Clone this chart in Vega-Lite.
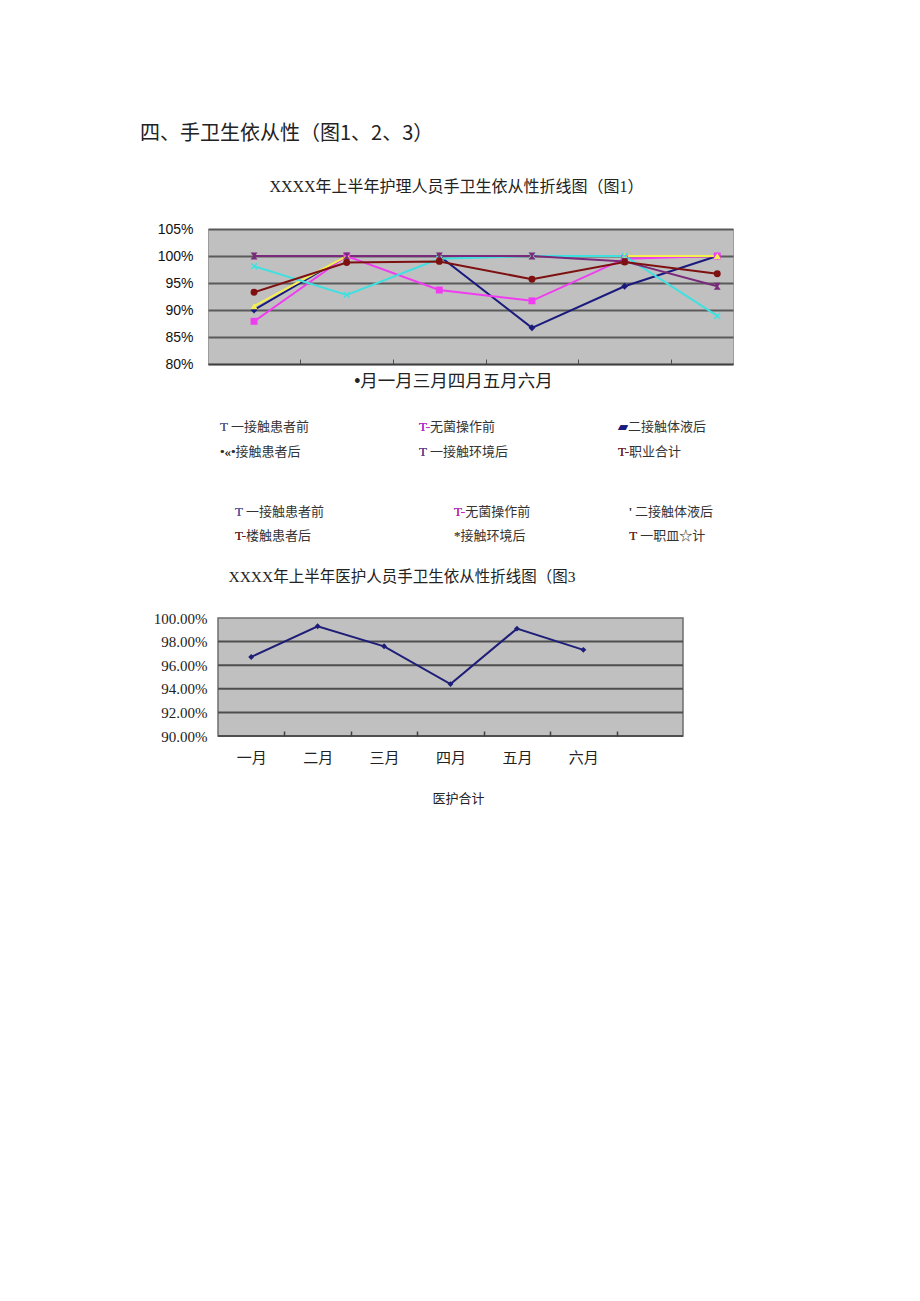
{
  "$schema": "https://vega.github.io/schema/vega-lite/v6.json",
  "background": "white",
  "padding": {"left": 140, "top": 123, "right": 5, "bottom": 5},
  "title": {"text": "四、手卫生依从性（图1、2、3）", "anchor": "start", "frame": "group", "dx": -68, "fontSize": 20, "fontWeight": "normal", "font": "Noto Sans CJK SC", "color": "#222", "baseline": "middle", "offset": 25},
  "spacing": 35.67,
  "bounds": "flush",
  "resolve": {"scale": {"color": "independent", "shape": "independent", "x": "independent", "y": "independent"}},
  "config": {"view": {"stroke": null}, "font": "Noto Sans CJK SC", "axis": {"labelOverlap": false}},
  "datasets": {
    "nursing": [
      {"month": 1, "series": "接触患者前", "rate": 0.90},
      {"month": 2, "series": "接触患者前", "rate": 1.00},
      {"month": 3, "series": "接触患者前", "rate": 1.00},
      {"month": 4, "series": "接触患者前", "rate": 0.867},
      {"month": 5, "series": "接触患者前", "rate": 0.944},
      {"month": 6, "series": "接触患者前", "rate": 1.00},
      {"month": 1, "series": "无菌操作前", "rate": 0.879},
      {"month": 2, "series": "无菌操作前", "rate": 1.00},
      {"month": 3, "series": "无菌操作前", "rate": 0.937},
      {"month": 4, "series": "无菌操作前", "rate": 0.917},
      {"month": 5, "series": "无菌操作前", "rate": 0.995},
      {"month": 6, "series": "无菌操作前", "rate": 1.00},
      {"month": 1, "series": "接触体液后", "rate": 0.907},
      {"month": 2, "series": "接触体液后", "rate": 1.00},
      {"month": 3, "series": "接触体液后", "rate": 1.00},
      {"month": 4, "series": "接触体液后", "rate": 1.00},
      {"month": 5, "series": "接触体液后", "rate": 1.00},
      {"month": 6, "series": "接触体液后", "rate": 1.00},
      {"month": 1, "series": "接触患者后", "rate": 0.981},
      {"month": 2, "series": "接触患者后", "rate": 0.928},
      {"month": 3, "series": "接触患者后", "rate": 0.995},
      {"month": 4, "series": "接触患者后", "rate": 1.00},
      {"month": 5, "series": "接触患者后", "rate": 1.00},
      {"month": 6, "series": "接触患者后", "rate": 0.889},
      {"month": 1, "series": "接触环境后", "rate": 1.00},
      {"month": 2, "series": "接触环境后", "rate": 1.00},
      {"month": 3, "series": "接触环境后", "rate": 1.00},
      {"month": 4, "series": "接触环境后", "rate": 1.00},
      {"month": 5, "series": "接触环境后", "rate": 0.99},
      {"month": 6, "series": "接触环境后", "rate": 0.944},
      {"month": 1, "series": "职业合计", "rate": 0.933},
      {"month": 2, "series": "职业合计", "rate": 0.988},
      {"month": 3, "series": "职业合计", "rate": 0.99},
      {"month": 4, "series": "职业合计", "rate": 0.957},
      {"month": 5, "series": "职业合计", "rate": 0.989},
      {"month": 6, "series": "职业合计", "rate": 0.967}
    ],
    "medical": [
      {"month": 1, "name": "一月", "rate": 0.967},
      {"month": 2, "name": "二月", "rate": 0.993},
      {"month": 3, "name": "三月", "rate": 0.976},
      {"month": 4, "name": "四月", "rate": 0.944},
      {"month": 5, "name": "五月", "rate": 0.991},
      {"month": 6, "name": "六月", "rate": 0.973}
    ],
    "grid3": [{"level": 0.90}, {"level": 0.92}, {"level": 0.94}, {"level": 0.96}, {"level": 0.98}],
    "frame3": [{"part": "plot"}],
    "legend1": [
      {"row": "r1", "col": "c1", "prefix": "T", "text": "T 一接触患者前", "key": "a"},
      {"row": "r1", "col": "c2", "prefix": "T-", "text": "T-无菌操作前", "key": "b"},
      {"row": "r1", "col": "c3", "prefix": "▰", "text": "▰二接触体液后", "key": "c"},
      {"row": "r2", "col": "c1", "prefix": "•«•", "text": "•«•接触患者后", "key": "d"},
      {"row": "r2", "col": "c2", "prefix": "T", "text": "T 一接触环境后", "key": "e"},
      {"row": "r2", "col": "c3", "prefix": "T-", "text": "T-职业合计", "key": "f"}
    ],
    "legend2": [
      {"row": "r1", "col": "c1", "prefix": "T", "text": "T 一接触患者前", "key": "a"},
      {"row": "r1", "col": "c2", "prefix": "T-", "text": "T-无菌操作前", "key": "b"},
      {"row": "r1", "col": "c3", "prefix": "'", "text": "' 二接触体液后", "key": "c"},
      {"row": "r2", "col": "c1", "prefix": "T-", "text": "T-楼触患者后", "key": "d"},
      {"row": "r2", "col": "c2", "prefix": "*", "text": "*接触环境后", "key": "e"},
      {"row": "r2", "col": "c3", "prefix": "T", "text": "T 一职皿☆计", "key": "f"}
    ]
  },
  "vconcat": [
    {
      "width": 525,
      "height": 135,
      "view": {"fill": "#c0c0c0", "stroke": "#9c9c9c", "strokeWidth": 1},
      "title": {"text": "XXXX年上半年护理人员手卫生依从性折线图（图1）", "fontSize": 16, "fontWeight": "normal", "font": "Liberation Serif, Noto Sans CJK SC", "color": "#222", "baseline": "middle", "offset": 19, "dx": -14, "anchor": "middle"},
      "data": {"name": "nursing"},
      "encoding": {
        "x": {"field": "month", "type": "quantitative", "scale": {"domain": [0.503, 6.17], "nice": false, "zero": false},
          "axis": {"values": [1.5, 2.5, 3.5, 4.5, 5.5], "tickCount": 20, "labels": false, "tickSize": -5, "tickColor": "#505050", "domainColor": "#404040", "domainWidth": 1.5, "grid": false,
            "title": "•月一月三月四月五月六月", "titleFont": "Liberation Sans, Noto Sans CJK SC", "titleFontSize": 17.5, "titleFontWeight": "normal", "titleColor": "#222", "titleX": 245, "titleY": 17, "titleBaseline": "middle", "titleAlign": "center"}},
        "y": {"field": "rate", "type": "quantitative", "scale": {"domain": [0.8, 1.05], "nice": false, "zero": false},
          "axis": {"values": [0.8, 0.85, 0.9, 0.95, 1.0, 1.05], "tickCount": 20, "format": ".0%", "labelFont": "Liberation Sans", "labelFontSize": 14, "labelColor": "#111", "ticks": false, "labelPadding": 15, "domain": false, "grid": true, "gridColor": "#5a5a5a", "gridWidth": 2, "labelOverlap": false, "title": null}},
        "color": {"field": "series", "type": "nominal",
          "scale": {"domain": ["接触患者前", "无菌操作前", "接触体液后", "接触患者后", "接触环境后", "职业合计"], "range": ["#1a1a7e", "#f03cf0", "#f5f050", "#40e0e0", "#7a2a7a", "#7e1010"]},
          "legend": null}
      },
      "layer": [
        {"mark": {"type": "line", "strokeWidth": 2}},
        {"mark": {"type": "point", "filled": true, "opacity": 1, "size": 48, "strokeWidth": 0},
          "encoding": {"shape": {"field": "series", "type": "nominal",
            "scale": {"domain": ["接触患者前", "无菌操作前", "接触体液后", "接触患者后", "接触环境后", "职业合计"],
              "range": ["diamond", "square", "triangle-up", "M-1,-0.7L-0.7,-1L0,-0.3L0.7,-1L1,-0.7L0.3,0L1,0.7L0.7,1L0,0.3L-0.7,1L-1,0.7L-0.3,0Z", "M-1,-1L1,-1L0.25,0L1,1L-1,1L-0.25,0Z", "circle"]},
            "legend": null}}}
      ]
    },
    {
      "width": 525,
      "height": 75,
      "data": {"name": "legend1"},
      "resolve": {"scale": {"color": "independent"}},
      "encoding": {
        "x": {"field": "col", "type": "ordinal", "scale": {"type": "point", "domain": ["c1", "c2", "c3"], "padding": 0.319, "align": 0.0945}, "axis": null},
        "y": {"field": "row", "type": "ordinal", "scale": {"type": "point", "domain": ["r1", "r2"], "padding": 1, "align": 0.5467}, "axis": null}
      },
      "layer": [
        {"mark": {"type": "text", "align": "left", "baseline": "middle", "font": "Liberation Serif, Noto Sans CJK SC", "fontSize": 13, "color": "#333"},
          "encoding": {"text": {"field": "text"}}},
        {"mark": {"type": "text", "align": "left", "baseline": "middle", "font": "Liberation Serif, Noto Sans CJK SC", "fontSize": 13},
          "encoding": {"text": {"field": "prefix"},
            "color": {"field": "key", "type": "nominal", "scale": {"domain": ["a", "b", "c", "d", "e", "f"], "range": ["#5a5aa8", "#d020d8", "#1a1a80", "#333333", "#6a3a8a", "#7a1a1a"]}, "legend": null}}}
      ]
    },
    {
      "width": 482,
      "height": 72,
      "data": {"name": "legend2"},
      "resolve": {"scale": {"color": "independent"}},
      "encoding": {
        "x": {"field": "col", "type": "ordinal", "scale": {"type": "point", "domain": ["c1", "s1", "s2", "s3", "s4", "c2", "s5", "s6", "s7", "c3"], "padding": 1, "align": 0.308}, "axis": null},
        "y": {"field": "row", "type": "ordinal", "scale": {"type": "point", "domain": ["r1", "r2"], "padding": 1, "align": 0.035}, "axis": null}
      },
      "layer": [
        {"mark": {"type": "text", "align": "left", "baseline": "middle", "font": "Liberation Serif, Noto Sans CJK SC", "fontSize": 13, "color": "#333"},
          "encoding": {"text": {"field": "text"}}},
        {"mark": {"type": "text", "align": "left", "baseline": "middle", "font": "Liberation Serif, Noto Sans CJK SC", "fontSize": 13},
          "encoding": {"text": {"field": "prefix"},
            "color": {"field": "key", "type": "nominal", "scale": {"domain": ["a", "b", "c", "d", "e", "f"], "range": ["#5a5aa8", "#d020d8", "#333333", "#7a1a1a", "#555555", "#7a1a1a"]}, "legend": null}}}
      ]
    },
    {
      "width": 475,
      "height": 118,
      "title": {"text": "XXXX年上半年医护人员手卫生依从性折线图（图3", "fontSize": 15.5, "fontWeight": "normal", "font": "Liberation Serif, Noto Sans CJK SC", "color": "#222", "baseline": "middle", "offset": 19, "dx": -43.5, "anchor": "middle"},
      "layer": [
        {"data": {"name": "frame3"},
          "mark": {"type": "rect", "fill": "#c0c0c0", "stroke": "#6e6e6e", "strokeWidth": 1.5},
          "encoding": {
            "x": {"datum": 0.5, "type": "quantitative", "scale": {"domain": [0.3494, 7.5], "nice": false, "zero": false},
              "axis": {"values": [1, 1.5, 2, 2.5, 3, 3.5, 4, 4.5, 5, 5.5, 6, 6.5], "tickCount": 40,
                "labelExpr": "datum.value % 1 ? '' : ['','一月','二月','三月','四月','五月','六月'][datum.value]",
                "tickSize": -5, "tickColor": "#404040", "tickWidth": 1.5, "tickOpacity": {"condition": {"test": "datum.value % 1 === 0", "value": 0}, "value": 1},
                "domain": false, "grid": false, "labelFlush": false, "labelOverlap": false, "zindex": 1,
                "labelFont": "Noto Sans CJK SC", "labelFontSize": 15, "labelColor": "#222", "labelPadding": 26, "labelBaseline": "middle",
                "title": "医护合计", "titleFont": "Noto Sans CJK SC", "titleFontSize": 13, "titleFontWeight": "normal", "titleColor": "#222", "titleX": 250, "titleY": 62, "titleBaseline": "middle", "titleAlign": "center"}},
            "x2": {"datum": 7.5},
            "y": {"datum": 0.9, "type": "quantitative", "scale": {"domain": [0.9, 1.0], "nice": false, "zero": false},
              "axis": {"values": [0.9, 0.92, 0.94, 0.96, 0.98, 1.0], "tickCount": 20, "format": ".2%", "labelFont": "Liberation Serif", "labelFontSize": 15, "labelColor": "#222", "ticks": false, "domain": false, "grid": false, "labelPadding": 1, "labelOverlap": false, "labelFlush": false, "labelBound": false, "title": null}},
            "y2": {"datum": 1.0}}},
        {"data": {"name": "grid3"},
          "mark": {"type": "rule", "color": "#4e4e4e", "strokeWidth": 2},
          "encoding": {
            "x": {"datum": 0.5, "type": "quantitative"},
            "x2": {"datum": 7.5},
            "y": {"field": "level", "type": "quantitative"}}},
        {"data": {"name": "medical"},
          "mark": {"type": "line", "color": "#1e1e78", "strokeWidth": 2},
          "encoding": {
            "x": {"field": "month", "type": "quantitative"},
            "y": {"field": "rate", "type": "quantitative"}}},
        {"data": {"name": "medical"},
          "mark": {"type": "point", "shape": "diamond", "filled": true, "color": "#1e1e78", "size": 35, "opacity": 1},
          "encoding": {
            "x": {"field": "month", "type": "quantitative"},
            "y": {"field": "rate", "type": "quantitative"}}}
      ]
    }
  ]
}
